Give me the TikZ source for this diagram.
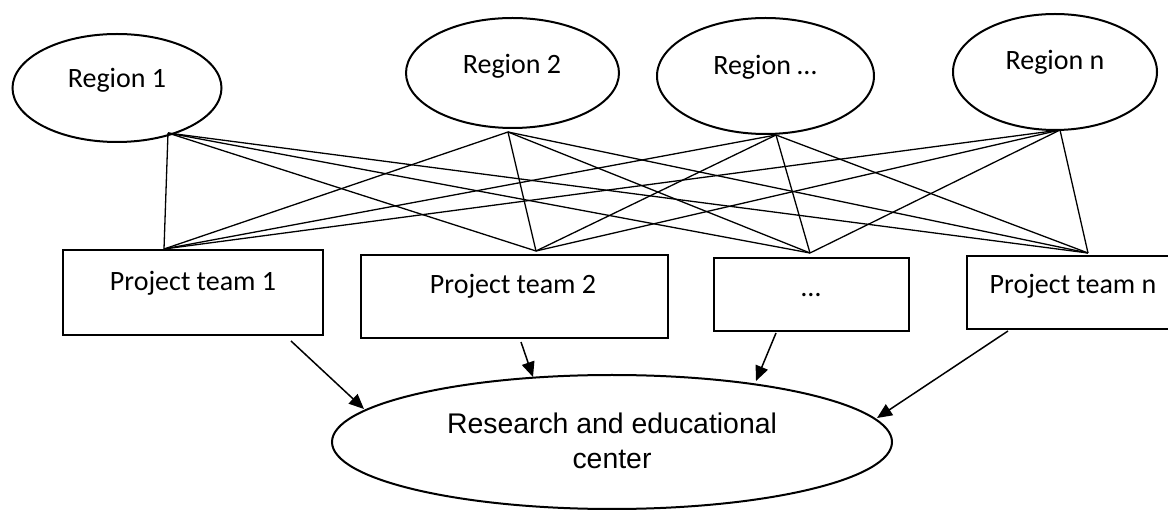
\documentclass[tikz,border=0pt]{standalone}
\usepackage{fontspec}
\setmainfont{Carlito}
\newfontfamily\arialfont{Liberation Sans}
\usetikzlibrary{shapes.geometric,arrows.meta}
\begin{document}
\begin{tikzpicture}[x=1pt,y=-1pt,
  region/.style={draw,ellipse,line width=2pt,inner sep=0pt},
  team/.style={draw,rectangle,line width=2pt,inner sep=0pt},
  lbl/.style={font=\fontsize{28}{32}\selectfont,inner sep=0pt,anchor=base},
  link/.style={line width=1.3pt},
  arr/.style={line width=1.5pt,-{Triangle[length=15pt,width=13pt]}}]
\useasboundingbox (0,0) rectangle (1168,510);
\clip (0,0) rectangle (1168,510);

% regions
\node[region,minimum width=209pt,minimum height=108pt] (r1) at (117,88) {};
\node[region,minimum width=213pt,minimum height=110pt] (r2) at (512.5,73) {};
\node[region,minimum width=217pt,minimum height=116pt] (r3) at (765.5,76) {};
\node[region,minimum width=204pt,minimum height=116pt] (r4) at (1055,72) {};
\node[lbl] (r1t) at (117,88) {Region 1};
\node[lbl] (r2t) at (512,74) {Region 2};
\node[lbl] (r3t) at (765,74.5) {Region …};
\node[lbl] (r4t) at (1055,70) {Region n};

% project teams
\node[team,minimum width=260pt,minimum height=85pt] (p1) at (193,292.5) {};
\node[team,minimum width=307pt,minimum height=83pt] (p2) at (514.5,296.5) {};
\node[team,minimum width=195pt,minimum height=73pt] (p3) at (811.5,294.5) {};
\node[team,minimum width=206pt,minimum height=73pt] (p4) at (1070,292.5) {};
\node[lbl] (p1t) at (193,291) {Project team 1};
\node[lbl] (p2t) at (513,294) {Project team 2};
\node[lbl] (p3t) at (811,296.5) {…};
\node[lbl] (p4t) at (1073,294) {Project team n};

% research and educational center
\node[region,minimum width=560pt,minimum height=134pt] (c) at (612,442) {};
\node[lbl,font=\arialfont\fontsize{28.4}{32}\selectfont] (ct1) at (612,434) {Research and educational};
\node[lbl,font=\arialfont\fontsize{28.4}{32}\selectfont] (ct2) at (612,469) {center};

% attachment points of the links
\coordinate (r1b) at (168,133);
\coordinate (r2b) at (508,132);
\coordinate (r3b) at (776,135);
\coordinate (r4b) at (1060,130);
\coordinate (t1) at (164,249);
\coordinate (t2) at (536,251);
\coordinate (t3) at (810,253);
\coordinate (t4) at (1088,253);

\foreach \r in {r1b,r2b,r3b,r4b}
  \foreach \t in {t1,t2,t3,t4}
    \draw[link] (\r) -- (\t);

% arrows into the center
\coordinate (a1s) at (291,341);  \coordinate (a1e) at (364,409);
\coordinate (a2s) at (521,342);  \coordinate (a2e) at (533,377);
\coordinate (a3s) at (776,333);  \coordinate (a3e) at (756,381);
\coordinate (a4s) at (1008,331); \coordinate (a4e) at (877,418);
\draw[arr] (a1s) -- (a1e);
\draw[arr] (a2s) -- (a2e);
\draw[arr] (a3s) -- (a3e);
\draw[arr] (a4s) -- (a4e);
\end{tikzpicture}
\end{document}
